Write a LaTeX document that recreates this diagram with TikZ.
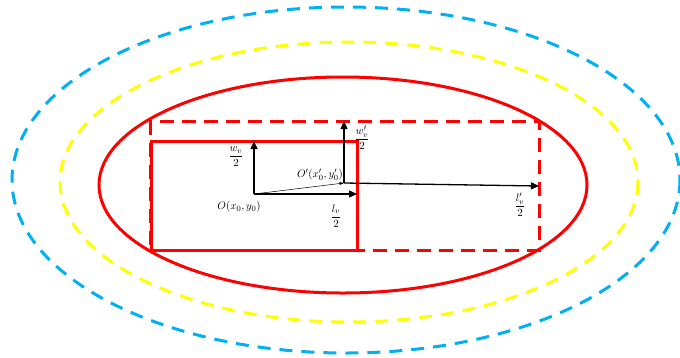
\documentclass[tikz,border=0pt]{standalone}
\usepackage{amsmath}
\usepackage{tikz}
\usetikzlibrary{arrows.meta, positioning}
\definecolor{zoneblue}{RGB}{0, 176, 240}
\definecolor{zoneyellow}{RGB}{255, 255, 0}
\definecolor{zonered}{RGB}{255, 0, 0}

\begin{document}
\begin{tikzpicture}[
    x=1pt, y=-1pt,
    zone/.style={line width=3pt, dash pattern=on 13pt off 9pt},
    vehicle/.style={draw=zonered, line width=3pt},
    axis/.style={-{Triangle[length=8pt,width=7pt]}, line width=1.3pt, black},
    moveline/.style={-{Stealth[length=5pt,width=3pt]}, line width=0.5pt, black},
    lbl/.style={font=\fontsize{11}{13}\selectfont, inner sep=1pt}
]
    \useasboundingbox (0,0) rectangle (680,357);

    % Safety zones
    \draw[zone, zoneblue] (346,180) ellipse [x radius=334, y radius=173];
    \draw[zone, zoneyellow] (349,182) ellipse [x radius=289, y radius=140];
    \draw[zonered, line width=3pt] (343,185) ellipse [x radius=244, y radius=108];

    % Vehicle boxes
    \draw[vehicle, dash pattern=on 14pt off 8pt] (150,121) rectangle (539,250);
    \draw[vehicle] (151,141) rectangle (357,250);

    % Centres and half sizes
    \coordinate (O) at (254,194);
    \coordinate (Op) at (344,183);
    \coordinate (Otop) at (254,141);
    \coordinate (Oright) at (357,194);
    \coordinate (Optop) at (344,121);
    \coordinate (Opright) at (539,186);

    \draw[axis] (O) -- (Otop);
    \draw[axis] (O) -- (Oright);
    \draw[axis] (Op) -- (Optop);
    \draw[axis] (Op) -- (Opright);
    \draw[moveline] (O) -- (Op);

    % Labels
    \node[lbl] (wv) at (236,157) {$\dfrac{w_v}{2}$};
    \node[lbl] (Olbl) at (239,207) {$O(x_0,y_0)$};
    \node[lbl] (lv) at (336,216) {$\dfrac{l_v}{2}$};
    \node[lbl] (Oplbl) at (320,175) {$O'(x_0',y_0')$};
    \node[lbl] (wpv) at (362,138) {$\dfrac{w_v'}{2}$};
    \node[lbl] (lpv) at (520,205) {$\dfrac{l_v'}{2}$};
\end{tikzpicture}
\end{document}
